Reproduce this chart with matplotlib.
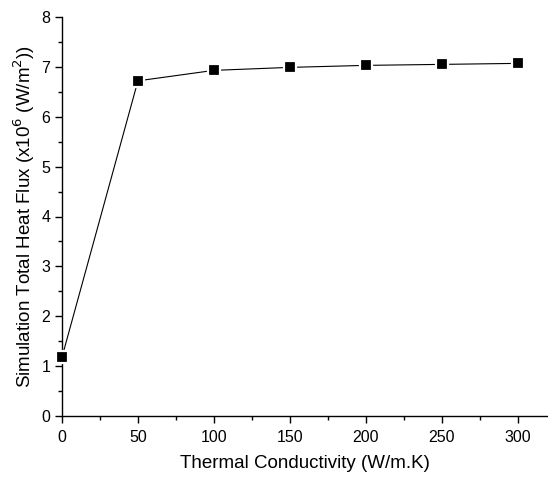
import matplotlib
matplotlib.use("Agg")
import matplotlib.pyplot as plt
from matplotlib.ticker import MultipleLocator

plt.rcParams['font.family'] = ['Liberation Sans', 'DejaVu Sans']

# thermal conductivity (W/m.K) vs simulated total heat flux (x10^6 W/m^2)
conductivity = [0, 50, 100, 150, 200, 250, 300]
heat_flux = [1.18, 6.72, 6.93, 6.99, 7.03, 7.05, 7.07]

fig = plt.figure(figsize=(5.48, 4.79), dpi=100)
ax = fig.add_axes([62 / 548, 1 - 416 / 479, 1 - 62 / 548, (416 - 17) / 479])

ax.plot(conductivity, heat_flux, color='black', lw=0.8, marker='s', ms=8,
        mfc='black', mec='white', mew=1.6, clip_on=False, zorder=3)

ax.set_xlim(0, 320)
ax.set_ylim(0, 8)
ax.xaxis.set_major_locator(MultipleLocator(50))
ax.xaxis.set_minor_locator(MultipleLocator(25))
ax.yaxis.set_major_locator(MultipleLocator(1))
ax.yaxis.set_minor_locator(MultipleLocator(0.5))

for side in ['top', 'right']:
    ax.spines[side].set_visible(False)
for side in ['left', 'bottom']:
    ax.spines[side].set_linewidth(1.0)

ax.tick_params(which='major', direction='out', length=5, width=1, labelsize=11.5)
ax.tick_params(axis='x', which='major', pad=5)
ax.tick_params(which='minor', direction='out', length=3, width=1)

ax.set_xlabel('Thermal Conductivity (W/m.K)', fontsize=13.5, labelpad=7)
ax.set_ylabel('Simulation Total Heat Flux (x10$^{6}$ (W/m$^{2}$))', fontsize=13.5, labelpad=3)

fig.savefig('out.png', dpi=100)
